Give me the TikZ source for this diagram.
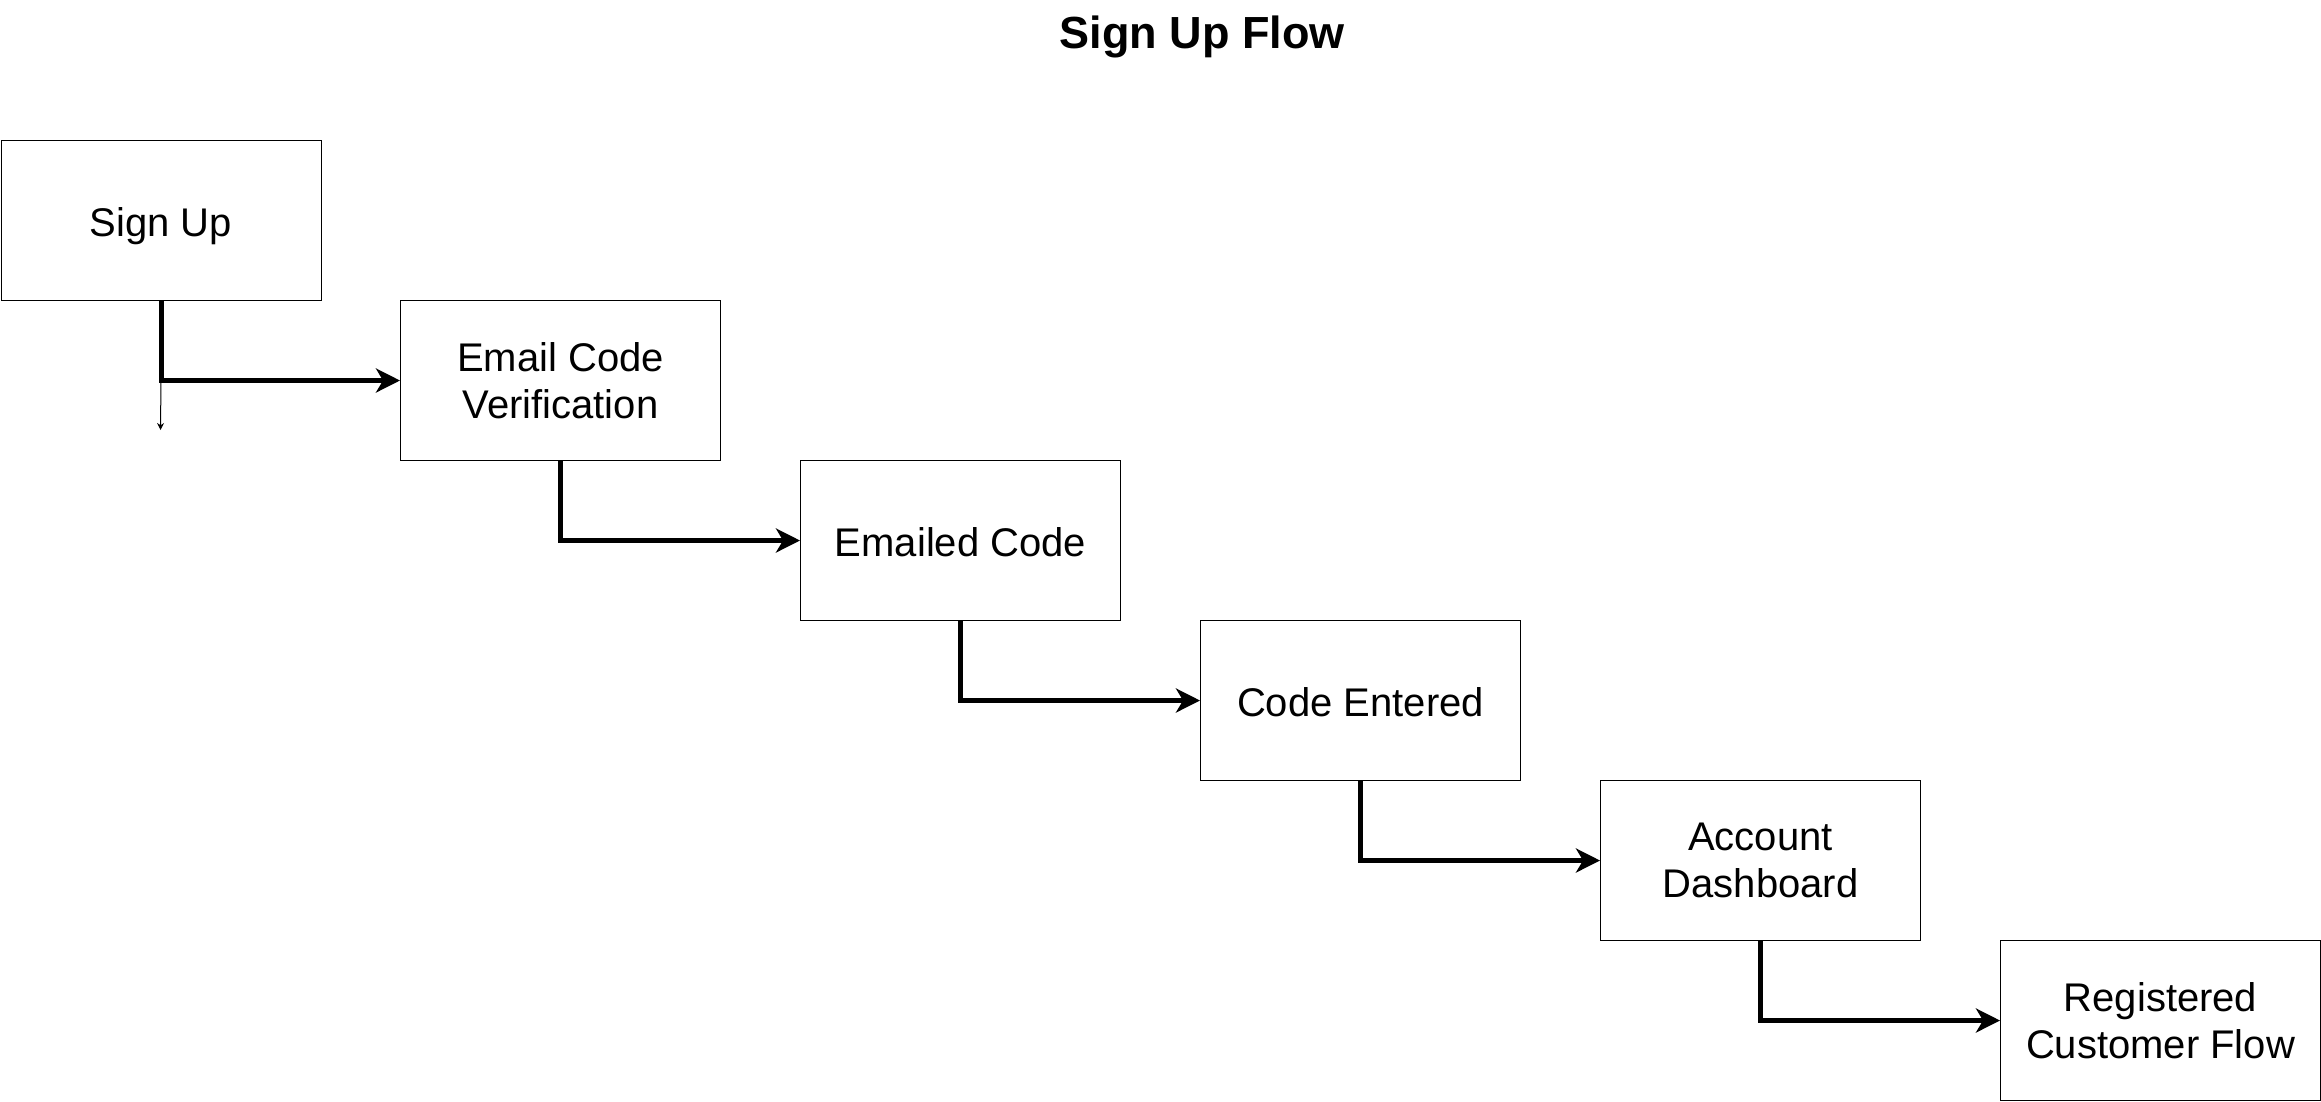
\documentclass[tikz,border=0pt]{standalone}
\usepackage{fontspec}
\setmainfont{Liberation Sans}
\usetikzlibrary{arrows.meta}
\begin{document}
\begin{tikzpicture}[x=1pt,y=-1pt,
  box/.style={draw, line width=1pt, minimum width=320pt, minimum height=160pt, inner sep=0pt,
    anchor=north west, align=center, font=\fontsize{40}{47}\selectfont},
  oneline/.style={text height=41pt, text depth=9pt},
  flow/.style={line width=5pt, -{Stealth[length=24pt,width=24pt,inset=7pt]}},
  stub/.style={line width=1pt, -{Stealth[length=7pt,width=7pt]}}]
\useasboundingbox (0,0) rectangle (2321,1101);
\node[font=\bfseries\fontsize{45}{54}\selectfont] (title) at (1202,37) {Sign Up Flow};
\node[box,oneline] (a) at (0.5,140) {Sign Up};
\node[box] (b) at (400,300) {Email Code\\Verification};
\node[box,oneline] (c) at (800,460) {Emailed Code};
\node[box,oneline] (d) at (1200,620) {Code Entered};
\node[box] (e) at (1600,780) {Account\\Dashboard};
\node[box] (f) at (2000,940) {Registered\\Customer Flow};
\draw[flow] (a.south) |- (b.west);
\draw[flow] (b.south) |- (c.west);
\draw[flow] (c.south) |- (d.west);
\draw[flow] (d.south) |- (e.west);
\draw[flow] (e.south) |- (f.west);
\coordinate (s) at (160.5,430);
\draw[stub] (a.south |- b.west) -- (s);
\end{tikzpicture}
\end{document}
